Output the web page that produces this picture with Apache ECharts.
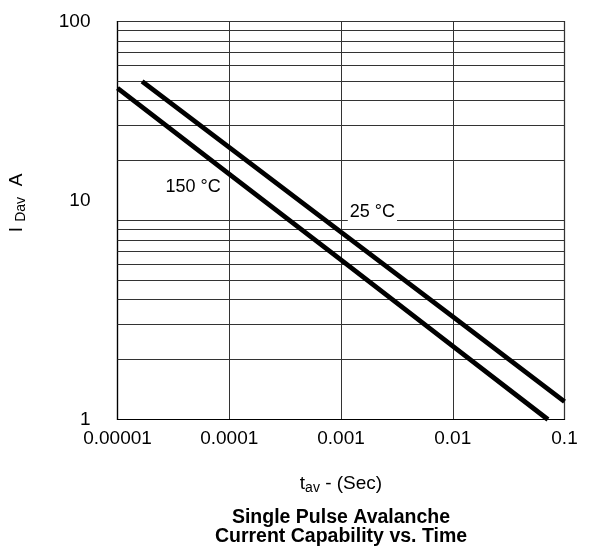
<!DOCTYPE html>
<html>
<head>
<meta charset="utf-8">
<script src="https://cdn.jsdelivr.net/npm/echarts@6/dist/echarts.min.js"></script>
<style>
html,body{margin:0;padding:0;background:#fff;}
#chart{width:616px;height:550px;}
</style>
</head>
<body>
<div id="chart"></div>
<script>
// ---- data ----
const xTickLabels = ['0.00001', '0.0001', '0.001', '0.01', '0.1'];
const yTickLabels = ['1', '10', '100'];
const minorGridValues = [2, 3, 4, 5, 6, 7, 8, 9, 20, 30, 40, 50, 60, 70, 80, 90];
const curve150 = [[1e-5, 46.3], [1e-4, 17.1], [1e-3, 6.34], [1e-2, 2.34], [0.0711, 1.0]];
const curve25 = [[1.66e-5, 50], [1e-4, 23.3], [1e-3, 8.74], [1e-2, 3.29], [0.1, 1.23]];
const curveLabels = [[4.74e-5, 14.7, '150 °C'], [1.91e-3, 11.03, '25 °C']];
const titleLines = ['Single Pulse Avalanche', 'Current Capability vs. Time'];

const FONT = 'Liberation Sans, Arial, Helvetica, sans-serif';
const chart = echarts.init(document.getElementById('chart'), null, {renderer: 'canvas'});

chart.setOption({
  backgroundColor: '#fff',
  animation: false,
  textStyle: {fontFamily: FONT},
  grid: {
    left: 117.5, right: 51.5, top: 21.5, bottom: 130.5,
    show: true, borderColor: '#000', borderWidth: 1.2, backgroundColor: 'transparent'
  },
  xAxis: {
    type: 'log', logBase: 10, min: 1e-5, max: 0.1,
    axisLine: {show: true, lineStyle: {color: '#000', width: 1.2}},
    axisTick: {show: false},
    splitLine: {show: true, lineStyle: {color: '#333', width: 1}},
    minorTick: {show: false},
    axisLabel: {
      color: '#000', fontSize: 19, fontFamily: FONT, margin: 10,
      formatter: (v, i) => xTickLabels[i]
    },
    name: '{m|t}{s|av}{m| - (Sec)}',
    nameLocation: 'middle',
    nameGap: 53,
    nameTextStyle: {
      rich: {
        m: {fontSize: 19, color: '#000', fontFamily: FONT},
        s: {fontSize: 14, color: '#000', fontFamily: FONT, padding: [9, 0, 0, 0]}
      }
    }
  },
  yAxis: {
    type: 'log', logBase: 10, min: 1, max: 100,
    axisLine: {show: true, lineStyle: {color: '#000', width: 1.2}},
    axisTick: {show: false},
    splitLine: {show: true, lineStyle: {color: '#333', width: 1}},
    axisLabel: {
      color: '#000', fontSize: 19, fontFamily: FONT, margin: 27,
      formatter: (v, i) => (yTickLabels[i] === '10' ? '{hi|10}' : yTickLabels[i]),
      rich: {hi: {fontSize: 19, color: '#000', fontFamily: FONT, padding: [0, 0, 40, 0]}}
    }
  },
  graphic: [{
    type: 'text',
    x: 17, y: 203,
    rotation: Math.PI / 2,
    style: {
      text: '{m|I }{s|Dav}{m|  A}',
      align: 'center', verticalAlign: 'middle',
      rich: {
        m: {fontSize: 19, fill: '#000', fontFamily: FONT},
        s: {fontSize: 14, fill: '#000', fontFamily: FONT, padding: [9, 0, 0, 0]}
      }
    }
  }, {
    type: 'text',
    x: 341, y: 508,
    style: {
      text: titleLines.join('\n'),
      align: 'center', verticalAlign: 'top',
      font: 'bold 19.5px ' + FONT,
      lineHeight: 19,
      fill: '#000'
    }
  }],
  series: [
    {
      type: 'line', name: 'grid', data: [], silent: true,
      markLine: {
        silent: true, symbol: 'none', animation: false,
        label: {show: false},
        lineStyle: {color: '#333', width: 1, type: 'solid'},
        data: minorGridValues.map(v => ({yAxis: v}))
      }
    },
    {
      type: 'scatter', name: 'labels', data: curveLabels, symbolSize: 0, silent: true, z: 5,
      itemStyle: {opacity: 1},
      label: {
        show: true, position: 'inside', formatter: p => p.data[2],
        fontSize: 18, color: '#000', opacity: 1, fontFamily: FONT,
        backgroundColor: '#fff', padding: [2, 2, 6, 2]
      }
    },
    {
      type: 'line', name: '150 °C', data: curve150, showSymbol: false, z: 10,
      lineStyle: {color: '#000', width: 4.8}
    },
    {
      type: 'line', name: '25 °C', data: curve25, showSymbol: false, z: 10,
      lineStyle: {color: '#000', width: 4.8}
    }
  ]
});
</script>
</body>
</html>
